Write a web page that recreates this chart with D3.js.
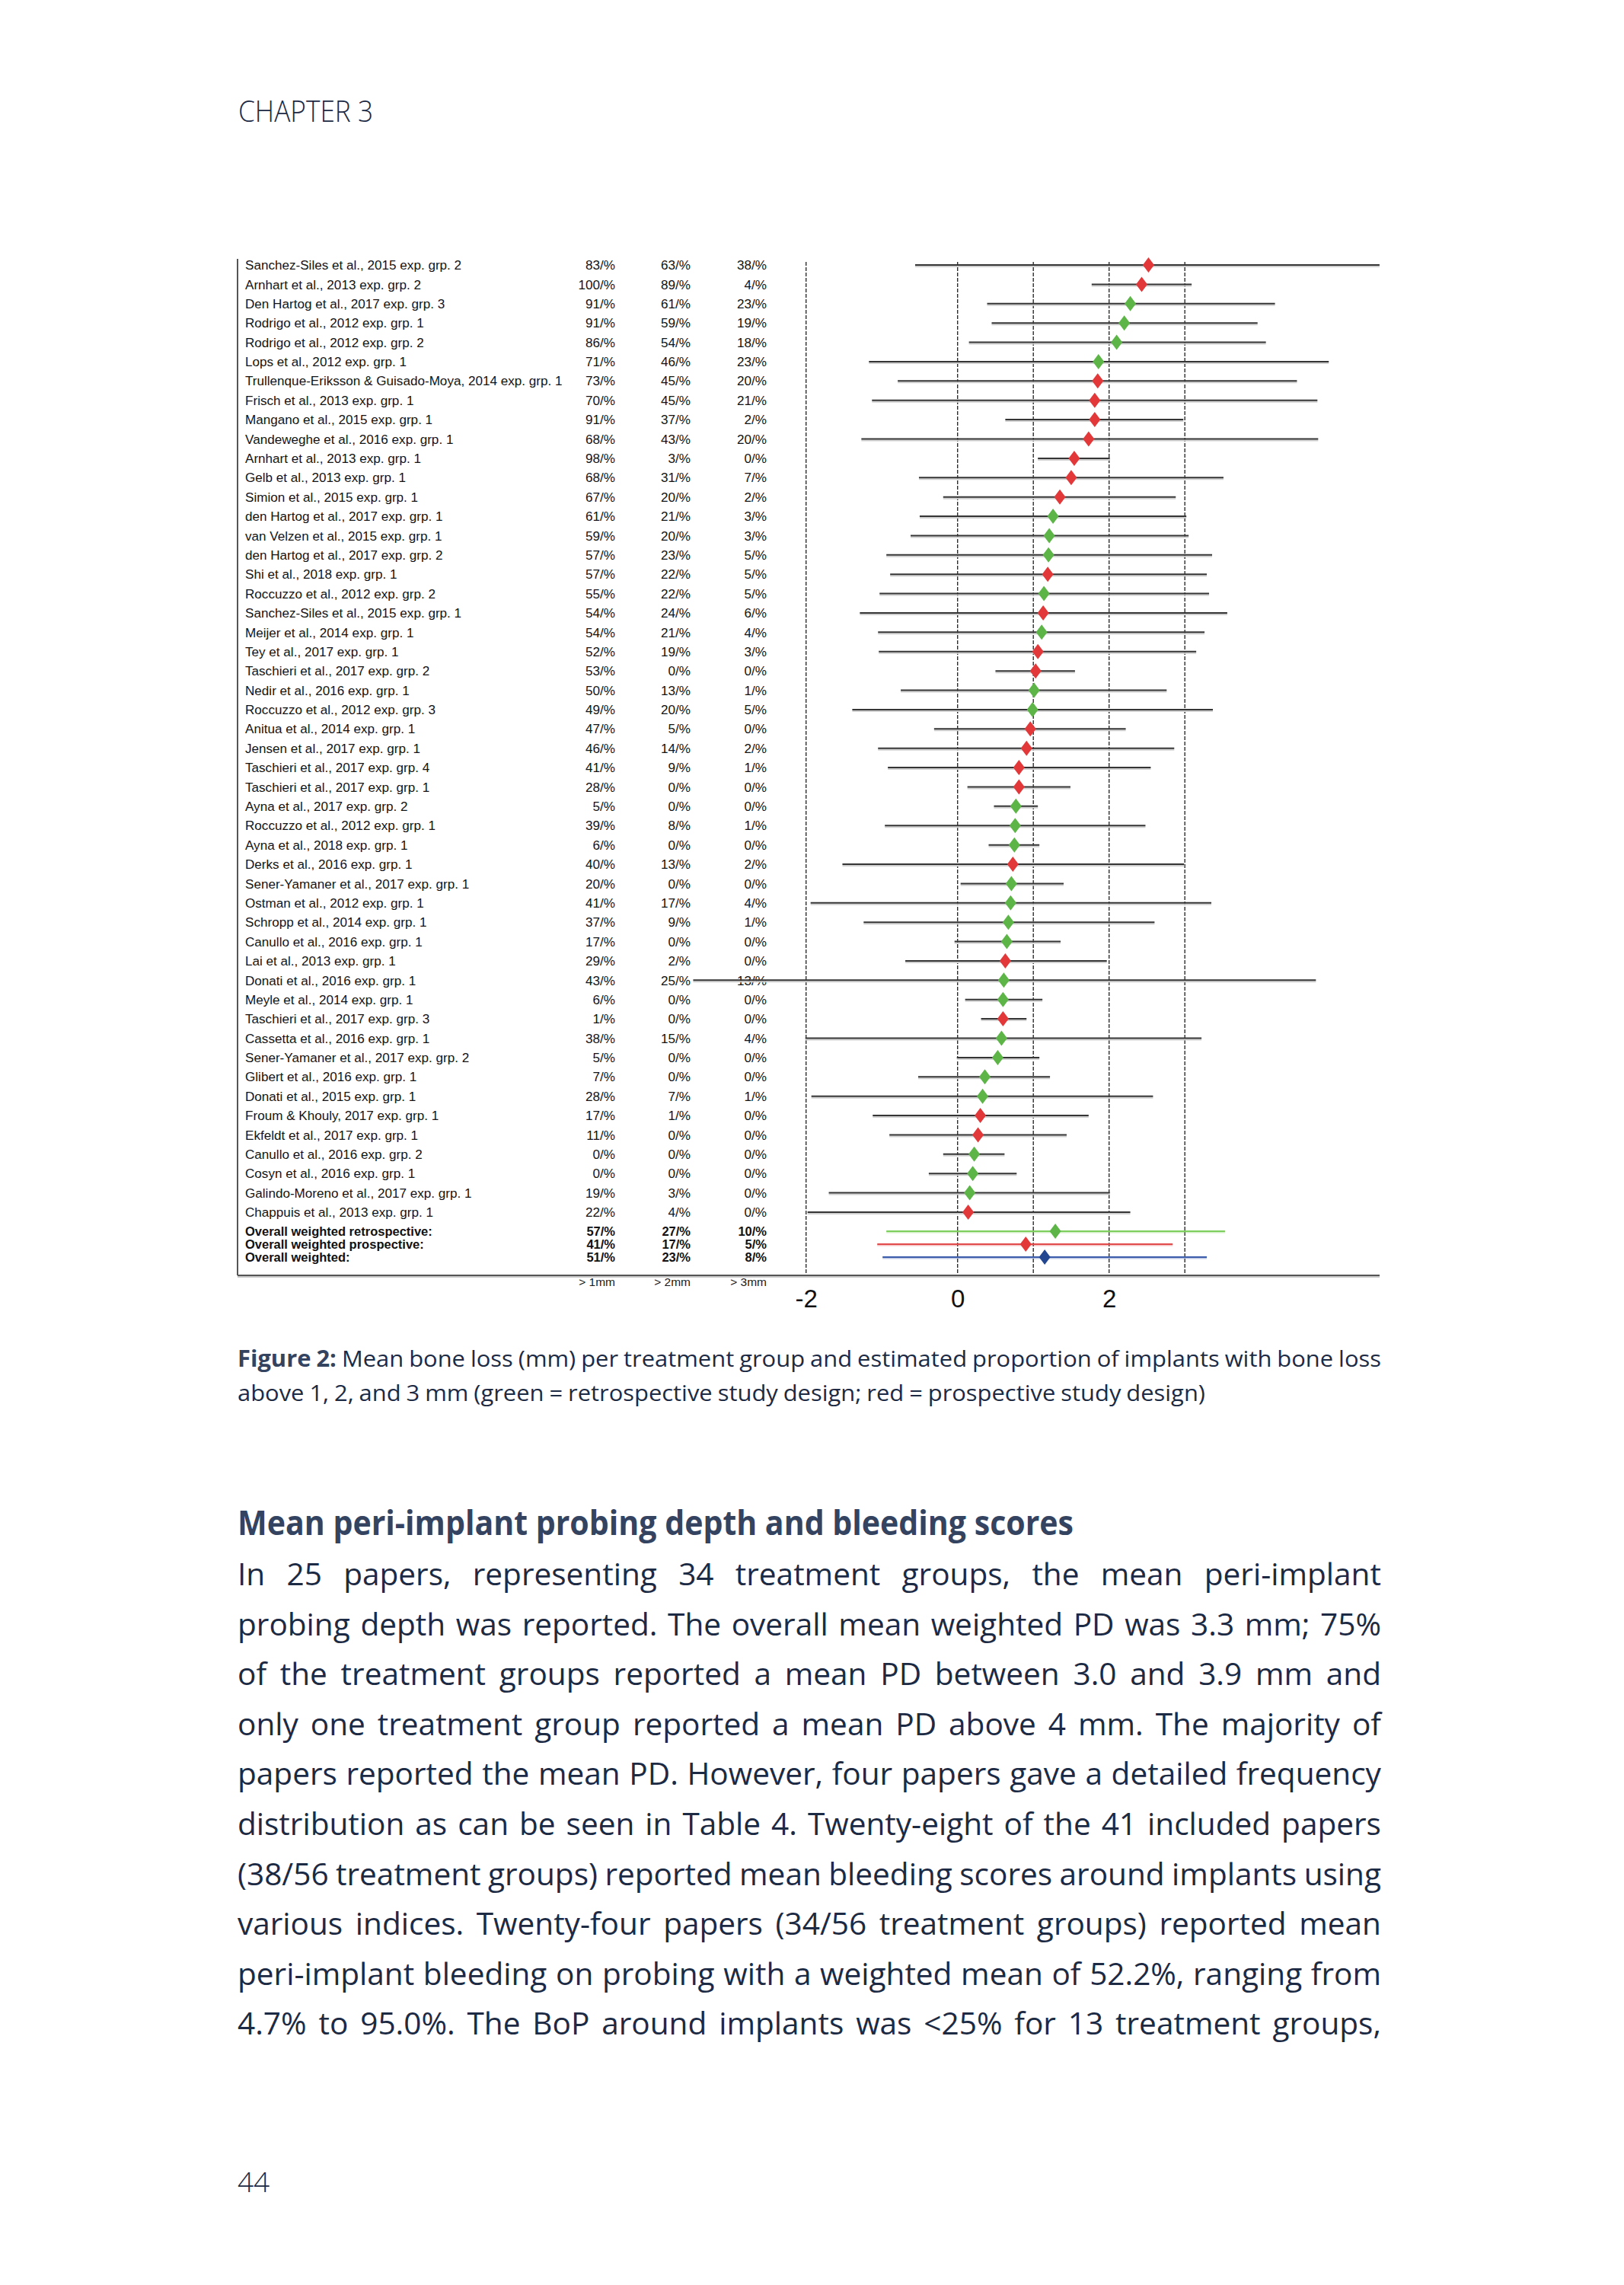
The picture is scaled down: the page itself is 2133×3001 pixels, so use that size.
<!DOCTYPE html>
<html>
<head>
<meta charset="utf-8">
<script src="https://cdn.jsdelivr.net/npm/d3@7"></script>
<style>
  body { margin: 0; background: #fff; }
  svg { display: block; }
</style>
</head>
<body>
<div id="page"></div>
<script>
"use strict";

// study rows, top to bottom
var studies = [
	"Sanchez-Siles et al., 2015 exp. grp. 2",
	"Arnhart et al., 2013 exp. grp. 2",
	"Den Hartog et al., 2017 exp. grp. 3",
	"Rodrigo et al., 2012 exp. grp. 1",
	"Rodrigo et al., 2012 exp. grp. 2",
	"Lops et al., 2012 exp. grp. 1",
	"Trullenque-Eriksson & Guisado-Moya, 2014 exp. grp. 1",
	"Frisch et al., 2013 exp. grp. 1",
	"Mangano et al., 2015 exp. grp. 1",
	"Vandeweghe et al., 2016 exp. grp. 1",
	"Arnhart et al., 2013 exp. grp. 1",
	"Gelb et al., 2013 exp. grp. 1",
	"Simion et al., 2015 exp. grp. 1",
	"den Hartog et al., 2017 exp. grp. 1",
	"van Velzen et al., 2015 exp. grp. 1",
	"den Hartog et al., 2017 exp. grp. 2",
	"Shi et al., 2018 exp. grp. 1",
	"Roccuzzo et al., 2012 exp. grp. 2",
	"Sanchez-Siles et al., 2015 exp. grp. 1",
	"Meijer et al., 2014 exp. grp. 1",
	"Tey et al., 2017 exp. grp. 1",
	"Taschieri et al., 2017 exp. grp. 2",
	"Nedir et al., 2016 exp. grp. 1",
	"Roccuzzo et al., 2012 exp. grp. 3",
	"Anitua et al., 2014 exp. grp. 1",
	"Jensen et al., 2017 exp. grp. 1",
	"Taschieri et al., 2017 exp. grp. 4",
	"Taschieri et al., 2017 exp. grp. 1",
	"Ayna et al., 2017 exp. grp. 2",
	"Roccuzzo et al., 2012 exp. grp. 1",
	"Ayna et al., 2018 exp. grp. 1",
	"Derks et al., 2016 exp. grp. 1",
	"Sener-Yamaner et al., 2017 exp. grp. 1",
	"Ostman et al., 2012 exp. grp. 1",
	"Schropp et al., 2014 exp. grp. 1",
	"Canullo et al., 2016 exp. grp. 1",
	"Lai et al., 2013 exp. grp. 1",
	"Donati et al., 2016 exp. grp. 1",
	"Meyle et al., 2014 exp. grp. 1",
	"Taschieri et al., 2017 exp. grp. 3",
	"Cassetta et al., 2016 exp. grp. 1",
	"Sener-Yamaner et al., 2017 exp. grp. 2",
	"Glibert et al., 2016 exp. grp. 1",
	"Donati et al., 2015 exp. grp. 1",
	"Froum & Khouly, 2017 exp. grp. 1",
	"Ekfeldt et al., 2017 exp. grp. 1",
	"Canullo et al., 2016 exp. grp. 2",
	"Cosyn et al., 2016 exp. grp. 1",
	"Galindo-Moreno et al., 2017 exp. grp. 1",
	"Chappuis et al., 2013 exp. grp. 1"
];

// R = retrospective (green), P = prospective (red)
var design = ["P","P","R","R","R","R","P","P","P","P",
	"P","P","P","R","R","R","P","R","P","R",
	"P","P","R","R","P","P","P","P","R","R",
	"R","P","R","R","R","R","P","R","R","P",
	"R","R","R","R","P","P","R","R","R","P"];

var meanLoss = [2.52, 2.43, 2.28, 2.20, 2.10, 1.86, 1.85, 1.81, 1.81, 1.73,
	1.54, 1.50, 1.35, 1.26, 1.21, 1.20, 1.19, 1.14, 1.13, 1.11,
	1.06, 1.03, 1.01, 0.99, 0.96, 0.91, 0.81, 0.81, 0.77, 0.76,
	0.75, 0.73, 0.71, 0.70, 0.67, 0.65, 0.63, 0.61, 0.60, 0.60,
	0.58, 0.53, 0.36, 0.33, 0.30, 0.27, 0.22, 0.20, 0.16, 0.14];

var lowLoss = [-0.56, 1.77, 0.39, 0.45, 0.15, -1.17, -0.79, -1.13, 0.63, -1.27,
	1.06, -0.51, -0.19, -0.50, -0.62, -0.94, -0.89, -1.03, -1.29, -1.05,
	-1.04, 0.50, -0.75, -1.39, -0.31, -1.05, -0.92, 0.13, 0.48, -0.96,
	0.41, -1.52, 0.04, -1.94, -1.24, -0.04, -0.69, -3.49, 0.10, 0.31,
	-2.01, -0.01, -0.52, -1.93, -1.12, -0.90, -0.19, -0.38, -1.70, -1.98];

var highLoss = [5.57, 3.09, 4.19, 3.96, 4.07, 4.90, 4.48, 4.75, 2.98, 4.76,
	2.01, 3.51, 2.88, 3.02, 3.05, 3.36, 3.29, 3.32, 3.56, 3.26,
	3.15, 1.55, 2.76, 3.37, 2.22, 2.86, 2.55, 1.49, 1.06, 2.48,
	1.08, 2.99, 1.40, 3.35, 2.60, 1.36, 1.97, 4.73, 1.12, 0.91,
	3.22, 1.08, 1.22, 2.58, 1.73, 1.44, 0.62, 0.78, 2.01, 2.28];

var above1mm = [83, 100, 91, 91, 86, 71, 73, 70, 91, 68,
	98, 68, 67, 61, 59, 57, 57, 55, 54, 54,
	52, 53, 50, 49, 47, 46, 41, 28, 5, 39,
	6, 40, 20, 41, 37, 17, 29, 43, 6, 1,
	38, 5, 7, 28, 17, 11, 0, 0, 19, 22];
var above2mm = [63, 89, 61, 59, 54, 46, 45, 45, 37, 43,
	3, 31, 20, 21, 20, 23, 22, 22, 24, 21,
	19, 0, 13, 20, 5, 14, 9, 0, 0, 8,
	0, 13, 0, 17, 9, 0, 2, 25, 0, 0,
	15, 0, 0, 7, 1, 0, 0, 0, 3, 4];
var above3mm = [38, 4, 23, 19, 18, 23, 20, 21, 2, 20,
	0, 7, 2, 3, 3, 5, 5, 5, 6, 4,
	3, 0, 1, 5, 0, 2, 1, 0, 0, 1,
	0, 2, 0, 4, 1, 0, 0, 13, 0, 0,
	4, 0, 0, 1, 0, 0, 0, 0, 0, 0];

var overallLabels = ["Overall weighted retrospective:", "Overall weighted prospective:", "Overall weighted:"];
var overallKind = ["R", "P", "A"];
var overallMean = [1.29, 0.90, 1.15];
var overallLow = [-0.94, -1.06, -0.99];
var overallHigh = [3.53, 2.84, 3.29];
var overall1mm = [57, 41, 51];
var overall2mm = [27, 17, 23];
var overall3mm = [10, 5, 8];

var columnHeads = ["> 1mm", "> 2mm", "> 3mm"];
var gridValues = [-2, 0, 1, 2, 3];
var tickValues = [-2, 0, 2];

var chapterTitle = "CHAPTER 3";
var captionLines = [
	"Figure 2: Mean bone loss (mm) per treatment group and estimated proportion of implants with bone loss",
	"above 1, 2, and 3 mm (green = retrospective study design; red = prospective study design)"
];
var heading = "Mean peri-implant probing depth and bleeding scores";
var bodyLines = [
	"In 25 papers, representing 34 treatment groups, the mean peri-implant",
	"probing depth was reported. The overall mean weighted PD was 3.3 mm; 75%",
	"of the treatment groups reported a mean PD between 3.0 and 3.9 mm and",
	"only one treatment group reported a mean PD above 4 mm. The majority of",
	"papers reported the mean PD. However, four papers gave a detailed frequency",
	"distribution as can be seen in Table 4. Twenty-eight of the 41 included papers",
	"(38/56 treatment groups) reported mean bleeding scores around implants using",
	"various indices. Twenty-four papers (34/56 treatment groups) reported mean",
	"peri-implant bleeding on probing with a weighted mean of 52.2%, ranging from",
	"4.7% to 95.0%. The BoP around implants was <25% for 13 treatment groups,"
];
var pageNumber = "44";

const pageW = 2133, pageH = 3001;
const chartFont = "'Liberation Sans', Arial, sans-serif";
const pageFont = "'Open Sans', 'Noto Sans', sans-serif";
const ink = "#1c2a44";
const colours = { R: "#5db548", P: "#e2383a", A: "#22468f" };
const lineColours = { R: "#7ccf5c", P: "#e24b4b", A: "#3a5cab" };

const svg = d3.select("#page").append("svg")
	.attr("width", pageW)
	.attr("height", pageH);

// ---- chart ----
const x = d3.scaleLinear().domain([-2, 2]).range([1058.7, 1456.7]);
const y = d3.scaleLinear().domain([0, studies.length - 1]).range([348, 1592]);
const yOverall = d3.scaleLinear().domain([0, 2]).range([1617, 1651]);

const chartLeft = 312, chartRight = 1812, chartTop = 340, axisY = 1675;
const colRight = [808, 907, 1007];

const chart = svg.append("g").attr("id", "forest");

// dashed reference lines
chart.selectAll("line.grid")
	.data(gridValues)
	.enter()
	.append("line")
		.attr("class", "grid")
		.attr("x1", d => x(d))
		.attr("x2", d => x(d))
		.attr("y1", 344)
		.attr("y2", axisY)
		.attr("stroke", "#2e2e2e")
		.attr("stroke-width", 1.4)
		.attr("stroke-dasharray", "5,2");

// frame: left edge and bottom axis line (with a soft shadow)
chart.append("line")
	.attr("x1", chartLeft).attr("x2", chartLeft)
	.attr("y1", chartTop).attr("y2", axisY)
	.attr("stroke", "#555").attr("stroke-width", 2);
chart.append("line")
	.attr("x1", chartLeft).attr("x2", chartRight)
	.attr("y1", axisY + 2).attr("y2", axisY + 2)
	.attr("stroke", "#c8c8c8").attr("stroke-width", 2);
chart.append("line")
	.attr("x1", chartLeft).attr("x2", chartRight)
	.attr("y1", axisY).attr("y2", axisY)
	.attr("stroke", "#555").attr("stroke-width", 2);

// text table
const rows = studies.map((s, i) => ({
	label: s, kind: design[i], mean: meanLoss[i], lo: lowLoss[i], hi: highLoss[i],
	p: [above1mm[i], above2mm[i], above3mm[i]], i: i
}));
const totals = overallLabels.map((s, i) => ({
	label: s, kind: overallKind[i], mean: overallMean[i], lo: overallLow[i], hi: overallHigh[i],
	p: [overall1mm[i], overall2mm[i], overall3mm[i]], i: i
}));

chart.selectAll("text.study")
	.data(rows)
	.enter()
	.append("text")
		.attr("class", "study")
		.attr("x", 322)
		.attr("y", d => y(d.i))
		.attr("dy", "0.36em")
		.style("font-family", chartFont)
		.style("font-size", "17.1px")
		.attr("fill", "#141414")
		.text(d => d.label);

colRight.forEach((cx, c) => {
	chart.selectAll("text.pct" + c)
		.data(rows)
		.enter()
		.append("text")
			.attr("class", "pct" + c)
			.attr("x", cx)
			.attr("y", d => y(d.i))
			.attr("dy", "0.36em")
			.attr("text-anchor", "end")
			.style("font-family", chartFont)
			.style("font-size", "17.1px")
			.attr("fill", "#141414")
			.text(d => `${d.p[c]}/%`);

	chart.selectAll("text.tot" + c)
		.data(totals)
		.enter()
		.append("text")
			.attr("class", "tot" + c)
			.attr("x", cx)
			.attr("y", d => yOverall(d.i))
			.attr("dy", "0.36em")
			.attr("text-anchor", "end")
			.style("font-family", chartFont)
			.style("font-size", "16.5px")
			.style("font-weight", "bold")
			.attr("fill", "#111")
			.text(d => `${d.p[c]}/%`);

	chart.append("text")
		.attr("x", cx)
		.attr("y", 1689)
		.attr("text-anchor", "end")
		.style("font-family", chartFont)
		.style("font-size", "15.5px")
		.attr("fill", "#1a1a1a")
		.text(columnHeads[c]);
});

chart.selectAll("text.total")
	.data(totals)
	.enter()
	.append("text")
		.attr("class", "total")
		.attr("x", 322)
		.attr("y", d => yOverall(d.i))
		.attr("dy", "0.36em")
		.style("font-family", chartFont)
		.style("font-size", "16.5px")
		.style("font-weight", "bold")
		.attr("fill", "#111")
		.text(d => d.label);

// interval lines: a light shadow under a dark stroke
chart.selectAll("line.ciShadow")
	.data(rows)
	.enter()
	.append("line")
		.attr("class", "ciShadow")
		.attr("x1", d => x(d.lo))
		.attr("x2", d => x(Math.min(d.hi, 5.57)))
		.attr("y1", d => y(d.i) + 2)
		.attr("y2", d => y(d.i) + 2)
		.attr("stroke", "#cfcfcf")
		.attr("stroke-width", 2);
chart.selectAll("line.ci")
	.data(rows)
	.enter()
	.append("line")
		.attr("class", "ci")
		.attr("x1", d => x(d.lo))
		.attr("x2", d => x(Math.min(d.hi, 5.57)))
		.attr("y1", d => y(d.i))
		.attr("y2", d => y(d.i))
		.attr("stroke", "#353535")
		.attr("stroke-width", 2);

chart.selectAll("line.totShadow")
	.data(totals)
	.enter()
	.append("line")
		.attr("class", "totShadow")
		.attr("x1", d => x(d.lo))
		.attr("x2", d => x(d.hi))
		.attr("y1", d => yOverall(d.i) + 1.5)
		.attr("y2", d => yOverall(d.i) + 1.5)
		.attr("stroke", d => lineColours[d.kind])
		.attr("stroke-opacity", 0.35)
		.attr("stroke-width", 2);
chart.selectAll("line.totLine")
	.data(totals)
	.enter()
	.append("line")
		.attr("class", "totLine")
		.attr("x1", d => x(d.lo))
		.attr("x2", d => x(d.hi))
		.attr("y1", d => yOverall(d.i))
		.attr("y2", d => yOverall(d.i))
		.attr("stroke", d => lineColours[d.kind])
		.attr("stroke-width", 2);

// narrow diamonds
function diamond(hw, hh) {
	const p = d3.path();
	p.moveTo(0, -hh);
	p.lineTo(hw, 0);
	p.lineTo(0, hh);
	p.lineTo(-hw, 0);
	p.closePath();
	return p.toString();
}
chart.selectAll("path.mark")
	.data(rows)
	.enter()
	.append("path")
		.attr("class", "mark")
		.attr("d", diamond(7.5, 10))
		.attr("transform", d => `translate(${x(d.mean)},${y(d.i)})`)
		.attr("fill", d => colours[d.kind]);
chart.selectAll("path.totMark")
	.data(totals)
	.enter()
	.append("path")
		.attr("class", "totMark")
		.attr("d", diamond(7.5, 10))
		.attr("transform", d => `translate(${x(d.mean)},${yOverall(d.i)})`)
		.attr("fill", d => colours[d.kind]);

// x axis labels
const axis = d3.axisBottom(x).tickValues(tickValues).tickSize(0).tickPadding(18.5).tickFormat(d3.format("d"));
const axisG = chart.append("g")
	.attr("transform", `translate(0,${axisY})`)
	.call(axis);
axisG.select(".domain").remove();
axisG.selectAll("text")
	.style("font-family", chartFont)
	.style("font-size", "33px")
	.attr("fill", "#111")
	.text(d => d < 0 ? "-" + Math.abs(d) : d);

// ---- page text ----
const measurer = svg.append("text").style("font-family", pageFont).attr("visibility", "hidden");
function wordWidth(word, size, weight) {
	measurer.style("font-size", size + "px").style("font-weight", weight).text(word);
	return measurer.node().getComputedTextLength();
}

// measure a block of lines and find one horizontal scale so the tightest
// line fits with a normal word space; the others get wider spaces
function layoutBlock(lines, size, weightOf, targets) {
	const measured = lines.map((line, li) => {
		const words = line.split(" ");
		const widths = words.map((w, i) => wordWidth(w, size, weightOf(li, i)));
		return { words: words, widths: widths, total: d3.sum(widths) };
	});
	const space = size * 0.23;
	const k = d3.min(measured, (m, li) => (targets[li] - (m.words.length - 1) * space) / m.total);
	return { measured: measured, k: k };
}

function drawBlock(g, block, x0, targets, baselines, size, weightOf, fill) {
	block.measured.forEach((m, li) => {
		const gaps = m.words.length - 1;
		const gap = gaps > 0 ? (targets[li] - block.k * m.total) / gaps : 0;
		let cx = x0;
		m.words.forEach((w, i) => {
			g.append("text")
				.attr("transform", `translate(${cx},${baselines[li]}) scale(${block.k},1)`)
				.style("font-family", pageFont)
				.style("font-size", size + "px")
				.style("font-weight", weightOf(li, i))
				.attr("fill", fill(li, i))
				.text(w);
			cx += block.k * m.widths[i] + gap;
		});
	});
}

const textG = svg.append("g").attr("id", "pageText");

textG.append("text")
	.attr("x", 313)
	.attr("y", 160)
	.attr("textLength", 177)
	.attr("lengthAdjust", "spacingAndGlyphs")
	.style("font-family", pageFont)
	.style("font-size", "39px")
	.style("font-weight", 300)
	.attr("fill", ink)
	.text(chapterTitle);

// caption: first line justified, second line set at its natural length
const captionBold = (li, i) => li === 0 && i < 2;
const captionWeight = (li, i) => captionBold(li, i) ? 700 : 400;
const captionTargets = [1502, 1271];
const captionBlock = layoutBlock(captionLines, 30, captionWeight, captionTargets);
drawBlock(textG, captionBlock, 312, captionTargets, [1795, 1840], 30, captionWeight,
	(li, i) => captionBold(li, i) ? "#34435f" : ink);

textG.append("text")
	.attr("x", 312)
	.attr("y", 2016)
	.attr("textLength", 1098)
	.attr("lengthAdjust", "spacingAndGlyphs")
	.style("font-family", pageFont)
	.style("font-size", "45px")
	.style("font-weight", 700)
	.attr("fill", "#34435f")
	.text(heading);

const bodyTargets = bodyLines.map(() => 1502);
const bodyBase = bodyLines.map((l, li) => 2082 + li * 65.6);
const bodyBlock = layoutBlock(bodyLines, 41, () => 400, bodyTargets);
drawBlock(textG, bodyBlock, 312, bodyTargets, bodyBase, 41, () => 400, () => ink);

textG.append("text")
	.attr("x", 312)
	.attr("y", 2879)
	.style("font-family", pageFont)
	.style("font-size", "37px")
	.style("font-weight", 300)
	.attr("fill", ink)
	.text(pageNumber);

measurer.remove();
</script>
</body>
</html>
